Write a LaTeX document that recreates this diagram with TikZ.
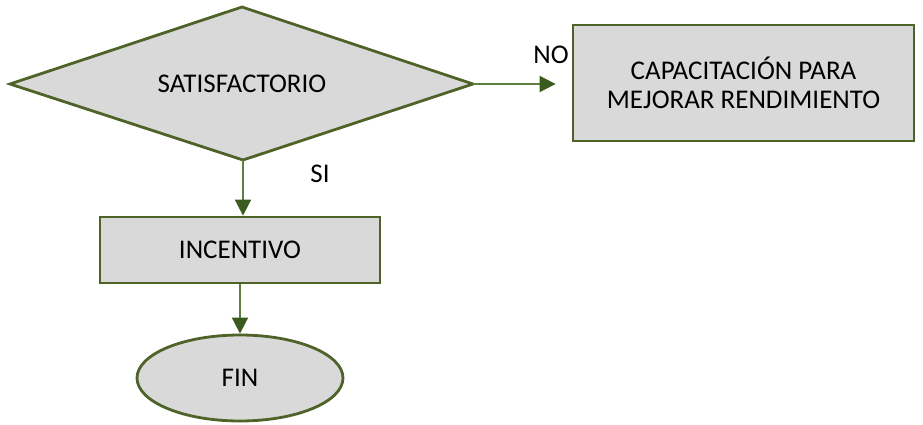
\documentclass[tikz,border=0pt]{standalone}
\usepackage{fontspec}
\setmainfont{Carlito}
\usetikzlibrary{shapes.geometric,arrows.meta}
\definecolor{bordergreen}{HTML}{4F6228}
\definecolor{linegreen}{HTML}{5F7F40}
\definecolor{headgreen}{HTML}{3B5A1E}
\definecolor{boxgray}{HTML}{D9D9D9}
\tikzset{
  shapebox/.style={draw=bordergreen, fill=boxgray, line width=2.8pt, inner sep=0pt, font=\fontsize{27}{29}\selectfont, align=center},
  txt/.style={font=\fontsize{27}{29}\selectfont, inner sep=0pt, align=center},
  flowarrow/.style={draw=linegreen, line width=1.8pt, -{Triangle[length=16pt,width=16pt,color=headgreen]}},
  lbl/.style={font=\fontsize{27}{29}\selectfont, inner sep=0pt}
}
\begin{document}
\begin{tikzpicture}[x=1pt,y=-1pt]
\useasboundingbox (0,0) rectangle (923,425);
\coordinate (satW) at (10,84);
\coordinate (satN) at (242,7);
\coordinate (satE) at (473,84);
\coordinate (satS) at (243,160);
\draw[draw=bordergreen, fill=boxgray, line width=2.8pt, line join=miter] (satW) -- (satN) -- (satE) -- (satS) -- cycle;
\node[txt] (sat) at (242,84) {SATISFACTORIO};
\node[shapebox, rectangle, minimum width=341pt, minimum height=116pt, text depth=-4pt] (cap) at (743.5,83) {CAPACITACIÓN PARA\\MEJORAR RENDIMIENTO};
\node[shapebox, rectangle, minimum width=280pt, minimum height=66pt] (inc) at (240,250) {INCENTIVO};
\node[shapebox, ellipse, minimum width=206pt, minimum height=86pt] (fin) at (240,378) {FIN};
\node[lbl] (no) at (551,55) {NO};
\node[lbl] (si) at (320,174) {SI};
\draw[flowarrow, shorten >=16pt] (satE) -- (cap.west |- satE);
\draw[flowarrow] (satS) -- (satS |- inc.north);
\draw[flowarrow] (inc.south) -- (fin.north);
\end{tikzpicture}
\end{document}
